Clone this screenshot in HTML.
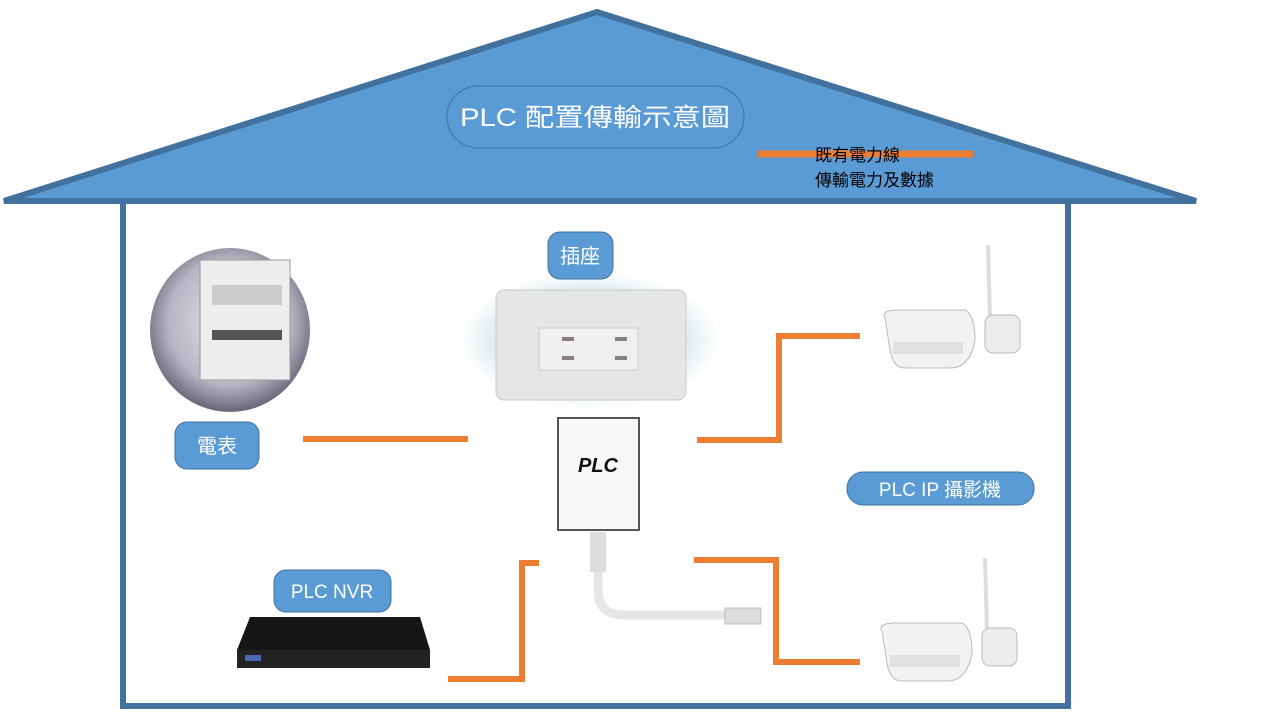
<!DOCTYPE html>
<html><head><meta charset="utf-8"><style>
body{margin:0;width:1280px;height:720px;background:#fff;overflow:hidden}
text{font-family:"Liberation Sans","Noto Sans CJK TC",sans-serif}
</style></head><body>
<svg width="1280" height="720" viewBox="0 0 1280 720">
<defs>
<radialGradient id="glow" cx="50%" cy="50%" r="50%"><stop offset="0.6" stop-color="#cfe3ea"/><stop offset="1" stop-color="#fff"/></radialGradient>
<radialGradient id="met" cx="50%" cy="45%" r="55%"><stop offset="0" stop-color="#e8e8ec"/><stop offset="0.7" stop-color="#b8b4c4"/><stop offset="1" stop-color="#6a6478"/></radialGradient>
</defs>
<path d="M123 203 V706 H1068 V203" fill="none" stroke="#41719c" stroke-width="6"/>
<polygon points="4,201 597,12 1196,201" fill="#5b9bd5" stroke="#41719c" stroke-width="6" stroke-linejoin="miter"/>
<rect x="447" y="86" width="297" height="62" rx="31" fill="#5b9bd5" stroke="#41719c" stroke-width="1"/>
<text x="595" y="126" font-size="25" fill="#fff" text-anchor="middle" textLength="270" lengthAdjust="spacingAndGlyphs">PLC 配置傳輸示意圖</text>
<line x1="758" y1="154" x2="973" y2="154" stroke="#ed7d31" stroke-width="7"/>
<text x="815" y="161" font-size="17" fill="#000">既有電力線</text>
<text x="815" y="186" font-size="17" fill="#000">傳輸電力及數據</text>
<g fill="none" stroke="#ed7d31" stroke-width="6">
<line x1="303" y1="439" x2="468" y2="439"/>
<polyline points="697,440 779,440 779,336 860,336"/>
<polyline points="694,560 776,560 776,662 860,662"/>
<polyline points="448,679 522,679 522,563 539,563"/>
</g>
<ellipse cx="230" cy="330" rx="80" ry="82" fill="url(#met)"/>
<rect x="200" y="260" width="90" height="120" fill="#eee" stroke="#999"/>
<rect x="212" y="285" width="70" height="20" fill="#ccc"/>
<rect x="212" y="330" width="70" height="10" fill="#555"/>
<ellipse cx="590" cy="340" rx="130" ry="68" fill="url(#glow)"/>
<rect x="496" y="290" width="190" height="110" rx="8" fill="#e4e7e3" stroke="#c8ccc8"/>
<rect x="539" y="328" width="99" height="42" fill="#f0f1ee" stroke="#ccc"/>
<g fill="#8a7f7f"><rect x="562" y="337" width="12" height="4"/><rect x="562" y="356" width="12" height="4"/><rect x="615" y="337" width="12" height="4"/><rect x="615" y="356" width="12" height="4"/></g>
<rect x="558" y="418" width="81" height="112" fill="#f8f8f8" stroke="#555" stroke-width="2"/>
<text x="598" y="472" font-size="20" font-style="italic" font-weight="bold" fill="#111" text-anchor="middle" font-family="Liberation Serif,serif">PLC</text>
<path d="M598 532 V590 Q598 615 625 615 H750" fill="none" stroke="#e6e6e4" stroke-width="9"/>
<rect x="590" y="532" width="16" height="40" fill="#ddd"/>
<rect x="725" y="608" width="36" height="16" fill="#ddd" stroke="#bbb"/>
<path d="M250 617 H420 L430 650 V668 H237 V650 Z" fill="#161616"/>
<rect x="237" y="650" width="193" height="18" fill="#222"/>
<rect x="245" y="655" width="16" height="6" fill="#4a6ab0"/>
<g id="cam">
<line x1="988" y1="245" x2="990" y2="318" stroke="#ddd" stroke-width="4"/>
<rect x="985" y="315" width="35" height="38" rx="8" fill="#ececec" stroke="#bbb"/>
<path d="M885 318 Q880 310 900 310 H965 Q975 315 975 340 Q970 368 950 368 H905 Q893 368 890 350 Z" fill="#f2f2f2" stroke="#bbb"/>
<rect x="893" y="342" width="70" height="12" fill="#e0e0e0"/>
</g>
<use href="#cam" transform="translate(-3,313)"/>
<g fill="#5b9bd5" stroke="#41719c" stroke-width="1">
<rect x="548" y="232" width="65" height="47" rx="12"/>
<rect x="175" y="422" width="84" height="47" rx="12"/>
<rect x="274" y="570" width="117" height="42" rx="12"/>
<rect x="847" y="472" width="187" height="33" rx="16"/>
</g>
<g fill="#fff" font-size="20" text-anchor="middle">
<text x="580" y="263">插座</text>
<text x="217" y="453">電表</text>
<text x="332" y="598" font-size="19">PLC NVR</text>
<text x="940" y="496" font-size="19">PLC IP 攝影機</text>
</g>
</svg>
</body></html>
